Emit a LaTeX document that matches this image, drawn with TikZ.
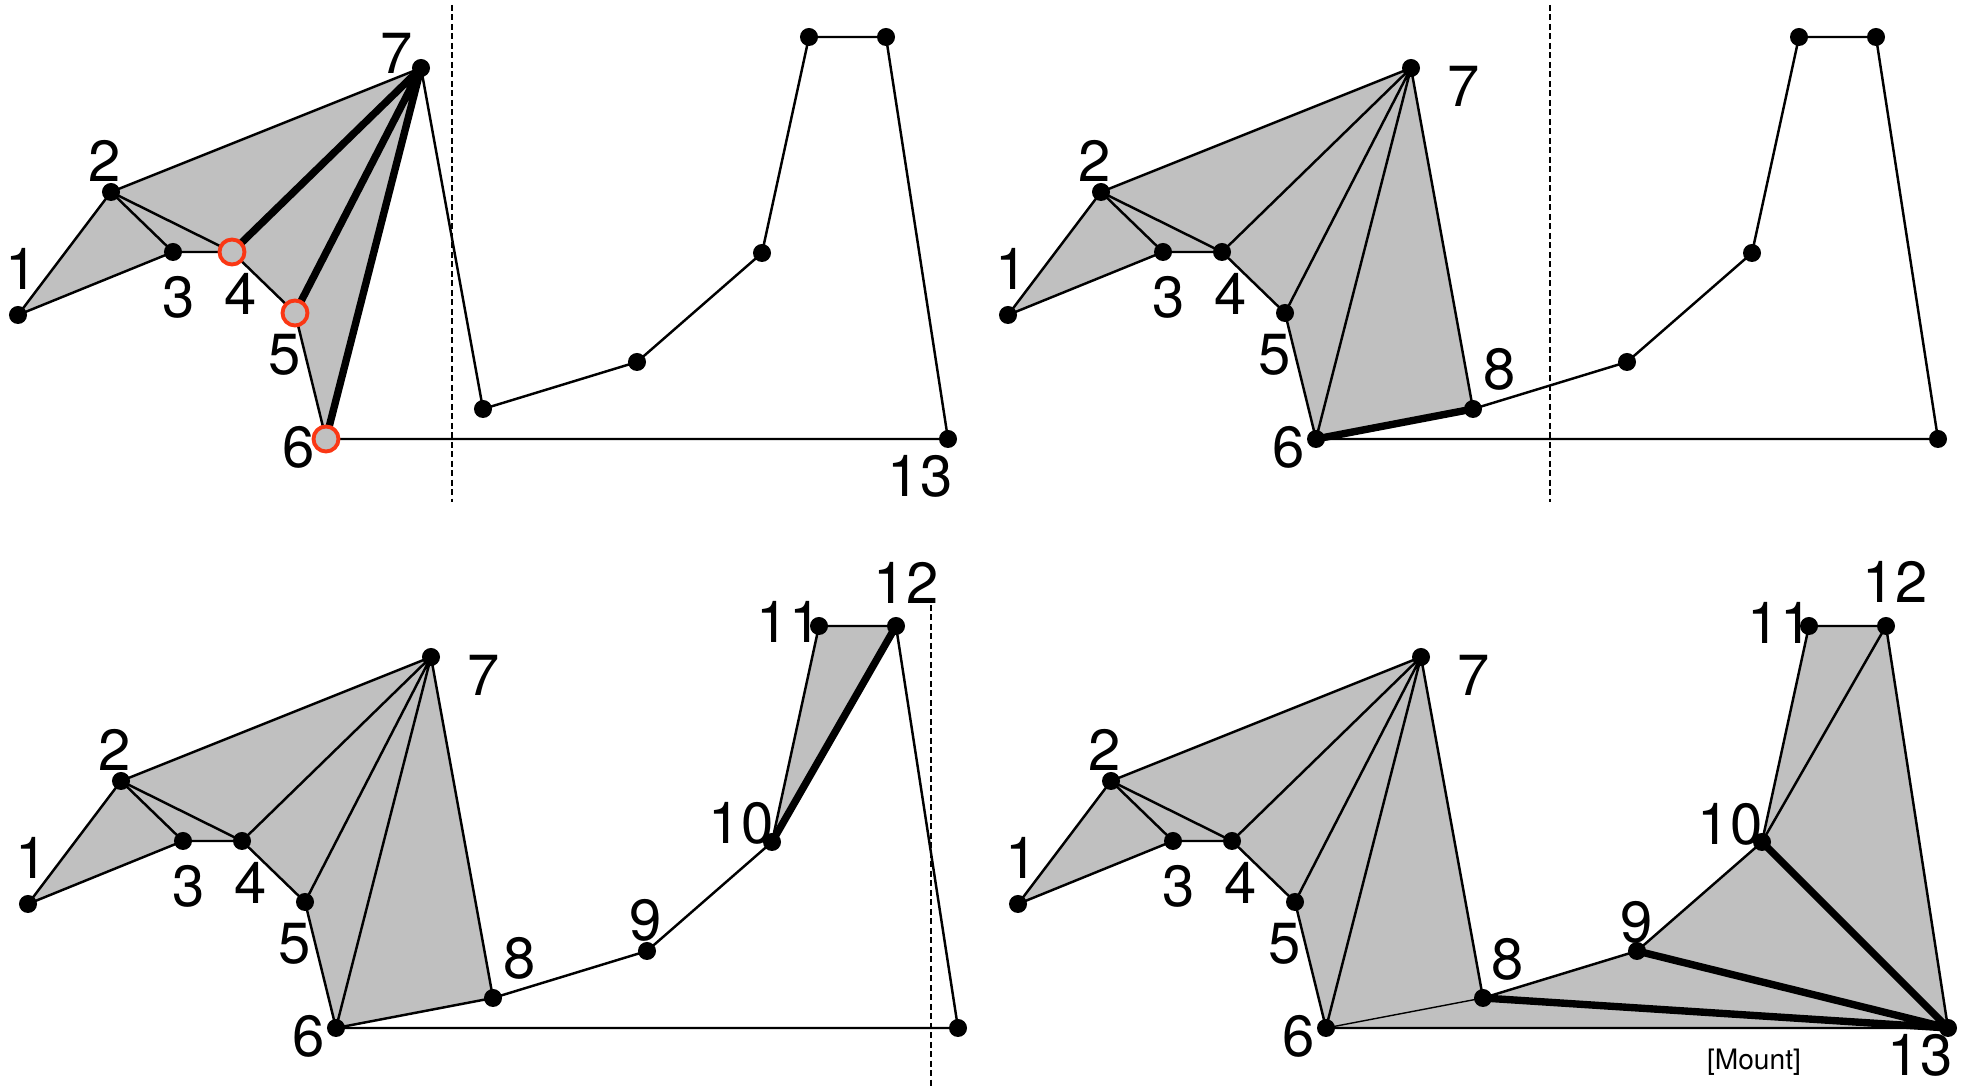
\documentclass[tikz,border=0pt]{standalone}
\usepackage{fontspec}
\setmainfont{TeX Gyre Heros}
\usetikzlibrary{calc}
\definecolor{polygray}{RGB}{192,192,192}
\definecolor{cusped}{RGB}{250,55,20}

\newcommand\monovertices{%
  \foreach \n/\x/\y in {1/18/315, 2/111/192, 3/173/252, 4/232/252, 5/295/313,
    6/326/439, 7/421/68, 8/483/409, 9/637/362, 10/762/253, 11/809/37,
    12/886/37, 13/948/439}
    \coordinate (\n) at (\x,\y);}
\newcommand\monochain{%
  \draw[edge] (1) -- (2) -- (7) -- (8) -- (9) -- (10) -- (11) -- (12) -- (13)
    -- (6) -- (5) -- (4) -- (3) -- cycle;}
\newcommand\monodots{%
  \foreach \n in {1,...,13}
    \fill (\n) circle[radius=0.09cm];}
\newcommand\lowlabels{%
  \foreach \n/\x/\y in {1/22/269, 2/105/161, 3/179/297, 4/241/294, 5/285/355, 6/299/447}
    \node[lbl] (l\n) at (\x,\y) {\n};}

\begin{document}
\begin{tikzpicture}[x=0.01cm, y=-0.01cm,
    lbl/.style={font=\fontsize{16.5}{17}\selectfont, inner sep=0pt},
    edge/.style={line width=0.7pt, line join=round},
    newdiag/.style={line width=2.1pt, line cap=round},
    faint/.style={line width=0.4pt},
    sweepline/.style={line width=0.8pt, dash pattern=on 1.7pt off 1pt},
    cusp/.style={draw=cusped, line width=1.1pt, fill=polygray}]
  \useasboundingbox (0,0) rectangle (1962,1086);

  \begin{scope}[name prefix=a]
    \monovertices
    \fill[polygray] (1) -- (2) -- (7) -- (6) -- (5) -- (4) -- (3) -- cycle;
    \draw[edge] (2) -- (3) (2) -- (4);
    \monochain
    \draw[newdiag] (4) -- (7) (5) -- (7) (6) -- (7);
    \monodots
    \foreach \n in {4,5,6}
      \draw[cusp] (\n) circle[radius=0.125cm];
    \coordinate (st) at (452,5);
    \coordinate (sb) at (452,502);
    \draw[sweepline] (st) -- (sb);
    \lowlabels
    \node[lbl] (l7) at (397,53) {7};
    \node[lbl] (l13) at (920,476) {13};
  \end{scope}

  \begin{scope}[shift={(990,0)}, name prefix=b]
    \monovertices
    \fill[polygray] (1) -- (2) -- (7) -- (8) -- (6) -- (5) -- (4) -- (3) -- cycle;
    \draw[edge] (2) -- (3) (2) -- (4) (4) -- (7) (5) -- (7) (6) -- (7);
    \monochain
    \draw[newdiag] (6) -- (8);
    \monodots
    \coordinate (st) at (560,5);
    \coordinate (sb) at (560,502);
    \draw[sweepline] (st) -- (sb);
    \lowlabels
    \node[lbl] (l7) at (474,86) {7};
    \node[lbl] (l8) at (510,369) {8};
  \end{scope}

  \begin{scope}[shift={(10,589)}, name prefix=c]
    \monovertices
    \fill[polygray] (1) -- (2) -- (7) -- (8) -- (6) -- (5) -- (4) -- (3) -- cycle;
    \fill[polygray] (10) -- (11) -- (12) -- cycle;
    \draw[edge] (2) -- (3) (2) -- (4) (4) -- (7) (5) -- (7) (6) -- (7) (6) -- (8);
    \monochain
    \draw[newdiag] (10) -- (12);
    \monodots
    \coordinate (st) at (921,16);
    \coordinate (sb) at (921,497);
    \draw[sweepline] (st) -- (sb);
    \lowlabels
    \foreach \n/\x/\y in {7/474/86, 8/510/369, 9/636/331, 10/731/234, 11/779/33, 12/896/-6}
      \node[lbl] (l\n) at (\x,\y) {\n};
  \end{scope}

  \begin{scope}[shift={(1000,589)}, name prefix=d]
    \monovertices
    \fill[polygray] (1) -- (2) -- (7) -- (8) -- (9) -- (10) -- (11) -- (12) -- (13)
      -- (6) -- (5) -- (4) -- (3) -- cycle;
    \draw[edge] (2) -- (3) (2) -- (4) (4) -- (7) (5) -- (7) (6) -- (7) (10) -- (12);
    \draw[faint] (6) -- (8);
    \monochain
    \draw[newdiag] (8) -- (13) (9) -- (13) (10) -- (13);
    \monodots
    \lowlabels
    \foreach \n/\x/\y in {7/474/86, 8/508/370, 9/637/333, 10/730/235, 11/780/34, 12/895/-7, 13/920/466}
      \node[lbl] (l\n) at (\x,\y) {\n};
    \node[font=\fontsize{8}{9}\selectfont, inner sep=0pt] (cite) at (754,473) {[Mount]};
  \end{scope}
\end{tikzpicture}
\end{document}
